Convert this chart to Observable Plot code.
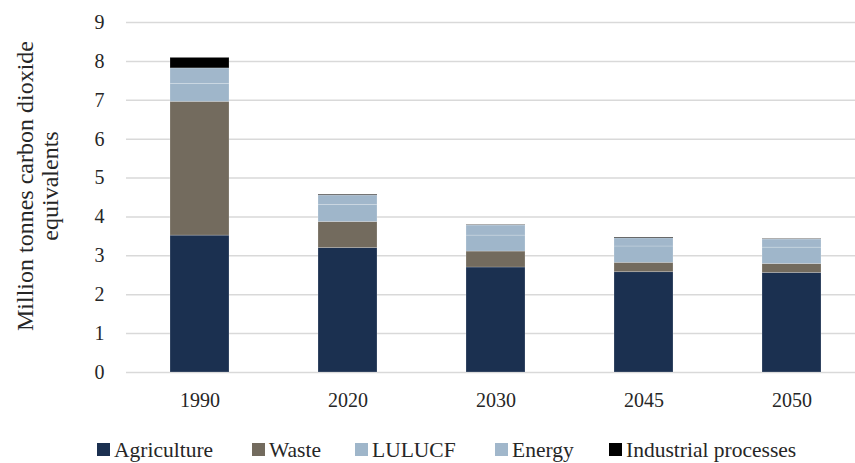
<!DOCTYPE html>
<html>
<head>
<meta charset="utf-8">
<script src="https://cdn.jsdelivr.net/npm/d3@7"></script>
<script src="https://cdn.jsdelivr.net/npm/@observablehq/plot@0.6"></script>
<style>
  html, body { margin: 0; padding: 0; background: #fff; overflow: hidden; }
  #chart svg { font-family: "Liberation Serif", "Times New Roman", serif; }
</style>
</head>
<body>
<div id="chart"></div>
<script>
const years = ["1990", "2020", "2030", "2045", "2050"];
const sectors = ["Agriculture", "Waste", "LULUCF", "Energy", "Industrial processes"];
const agriculture = [3.52, 3.20, 2.70, 2.58, 2.56];
const waste = [3.44, 0.67, 0.41, 0.24, 0.23];
const lulucf = [0.46, 0.44, 0.41, 0.42, 0.42];
const energy = [0.40, 0.24, 0.26, 0.21, 0.21];
const industrial = [0.27, 0.02, 0.01, 0.02, 0.01];
const yTicks = [0, 1, 2, 3, 4, 5, 6, 7, 8, 9];
const yLabelLines = ["Million tonnes carbon dioxide", "equivalents"];
const colors = ["#1b3050", "#736b5e", "#9fb6ca", "#a1b7cb", "#000000"];

const series = [agriculture, waste, lulucf, energy, industrial];
const data = [];
years.forEach((yr, i) => {
  sectors.forEach((s, j) => data.push({ year: yr, sector: s, value: series[j][i] }));
});

const chart = Plot.plot({
  width: 855,
  height: 463,
  marginLeft: 126,
  marginRight: 0,
  marginTop: 22,
  marginBottom: 91,
  style: { fontFamily: "Liberation Serif, serif", fontSize: "20px", color: "#262626", background: "#fff" },
  x: { domain: years, range: [125.5, 865.5], paddingInner: 0.6, paddingOuter: 0.3, label: null },
  y: { domain: [0, 9], label: null },
  color: { domain: sectors, range: colors },
  marks: [
    Plot.ruleY(yTicks, { stroke: "#d9d9d9", strokeWidth: 1.5 }),
    Plot.barY(data, { x: "year", y: "value", fill: "sector", stroke: "#ffffff", strokeOpacity: 0.25, strokeWidth: 0.8 }),
    Plot.axisX({ tickSize: 0, tickPadding: 20, fontSize: 20, label: null }),
    Plot.axisY({ ticks: yTicks, tickSize: 0, tickPadding: 22, fontSize: 20, label: null })
  ]
});
document.getElementById("chart").appendChild(chart);

const svg = d3.select(chart);
// y-axis title (two lines)
const yl = svg.append("g")
  .style("font-family", "'Liberation Serif', serif")
  .style("font-size", "24px")
  .style("fill", "#262626")
  .style("text-anchor", "middle");
const yLabelX = [33, 58];
yLabelLines.forEach((t, i) => {
  yl.append("text").attr("transform", `translate(${yLabelX[i]},186) rotate(-90)`).text(t);
});

// legend
const legX = [97, 252, 355, 495, 609];
const lg = svg.append("g")
  .style("font-family", "'Liberation Serif', serif")
  .style("font-size", "21.5px")
  .style("fill", "#262626")
  .style("text-anchor", "start");
sectors.forEach((s, i) => {
  const g = lg.append("g").attr("transform", `translate(${legX[i]},0)`);
  g.append("rect").attr("x", 0).attr("y", 443).attr("width", 13).attr("height", 13).style("fill", colors[i]);
  g.append("text").attr("x", 17).attr("y", 457).text(s);
});
</script>
</body>
</html>
